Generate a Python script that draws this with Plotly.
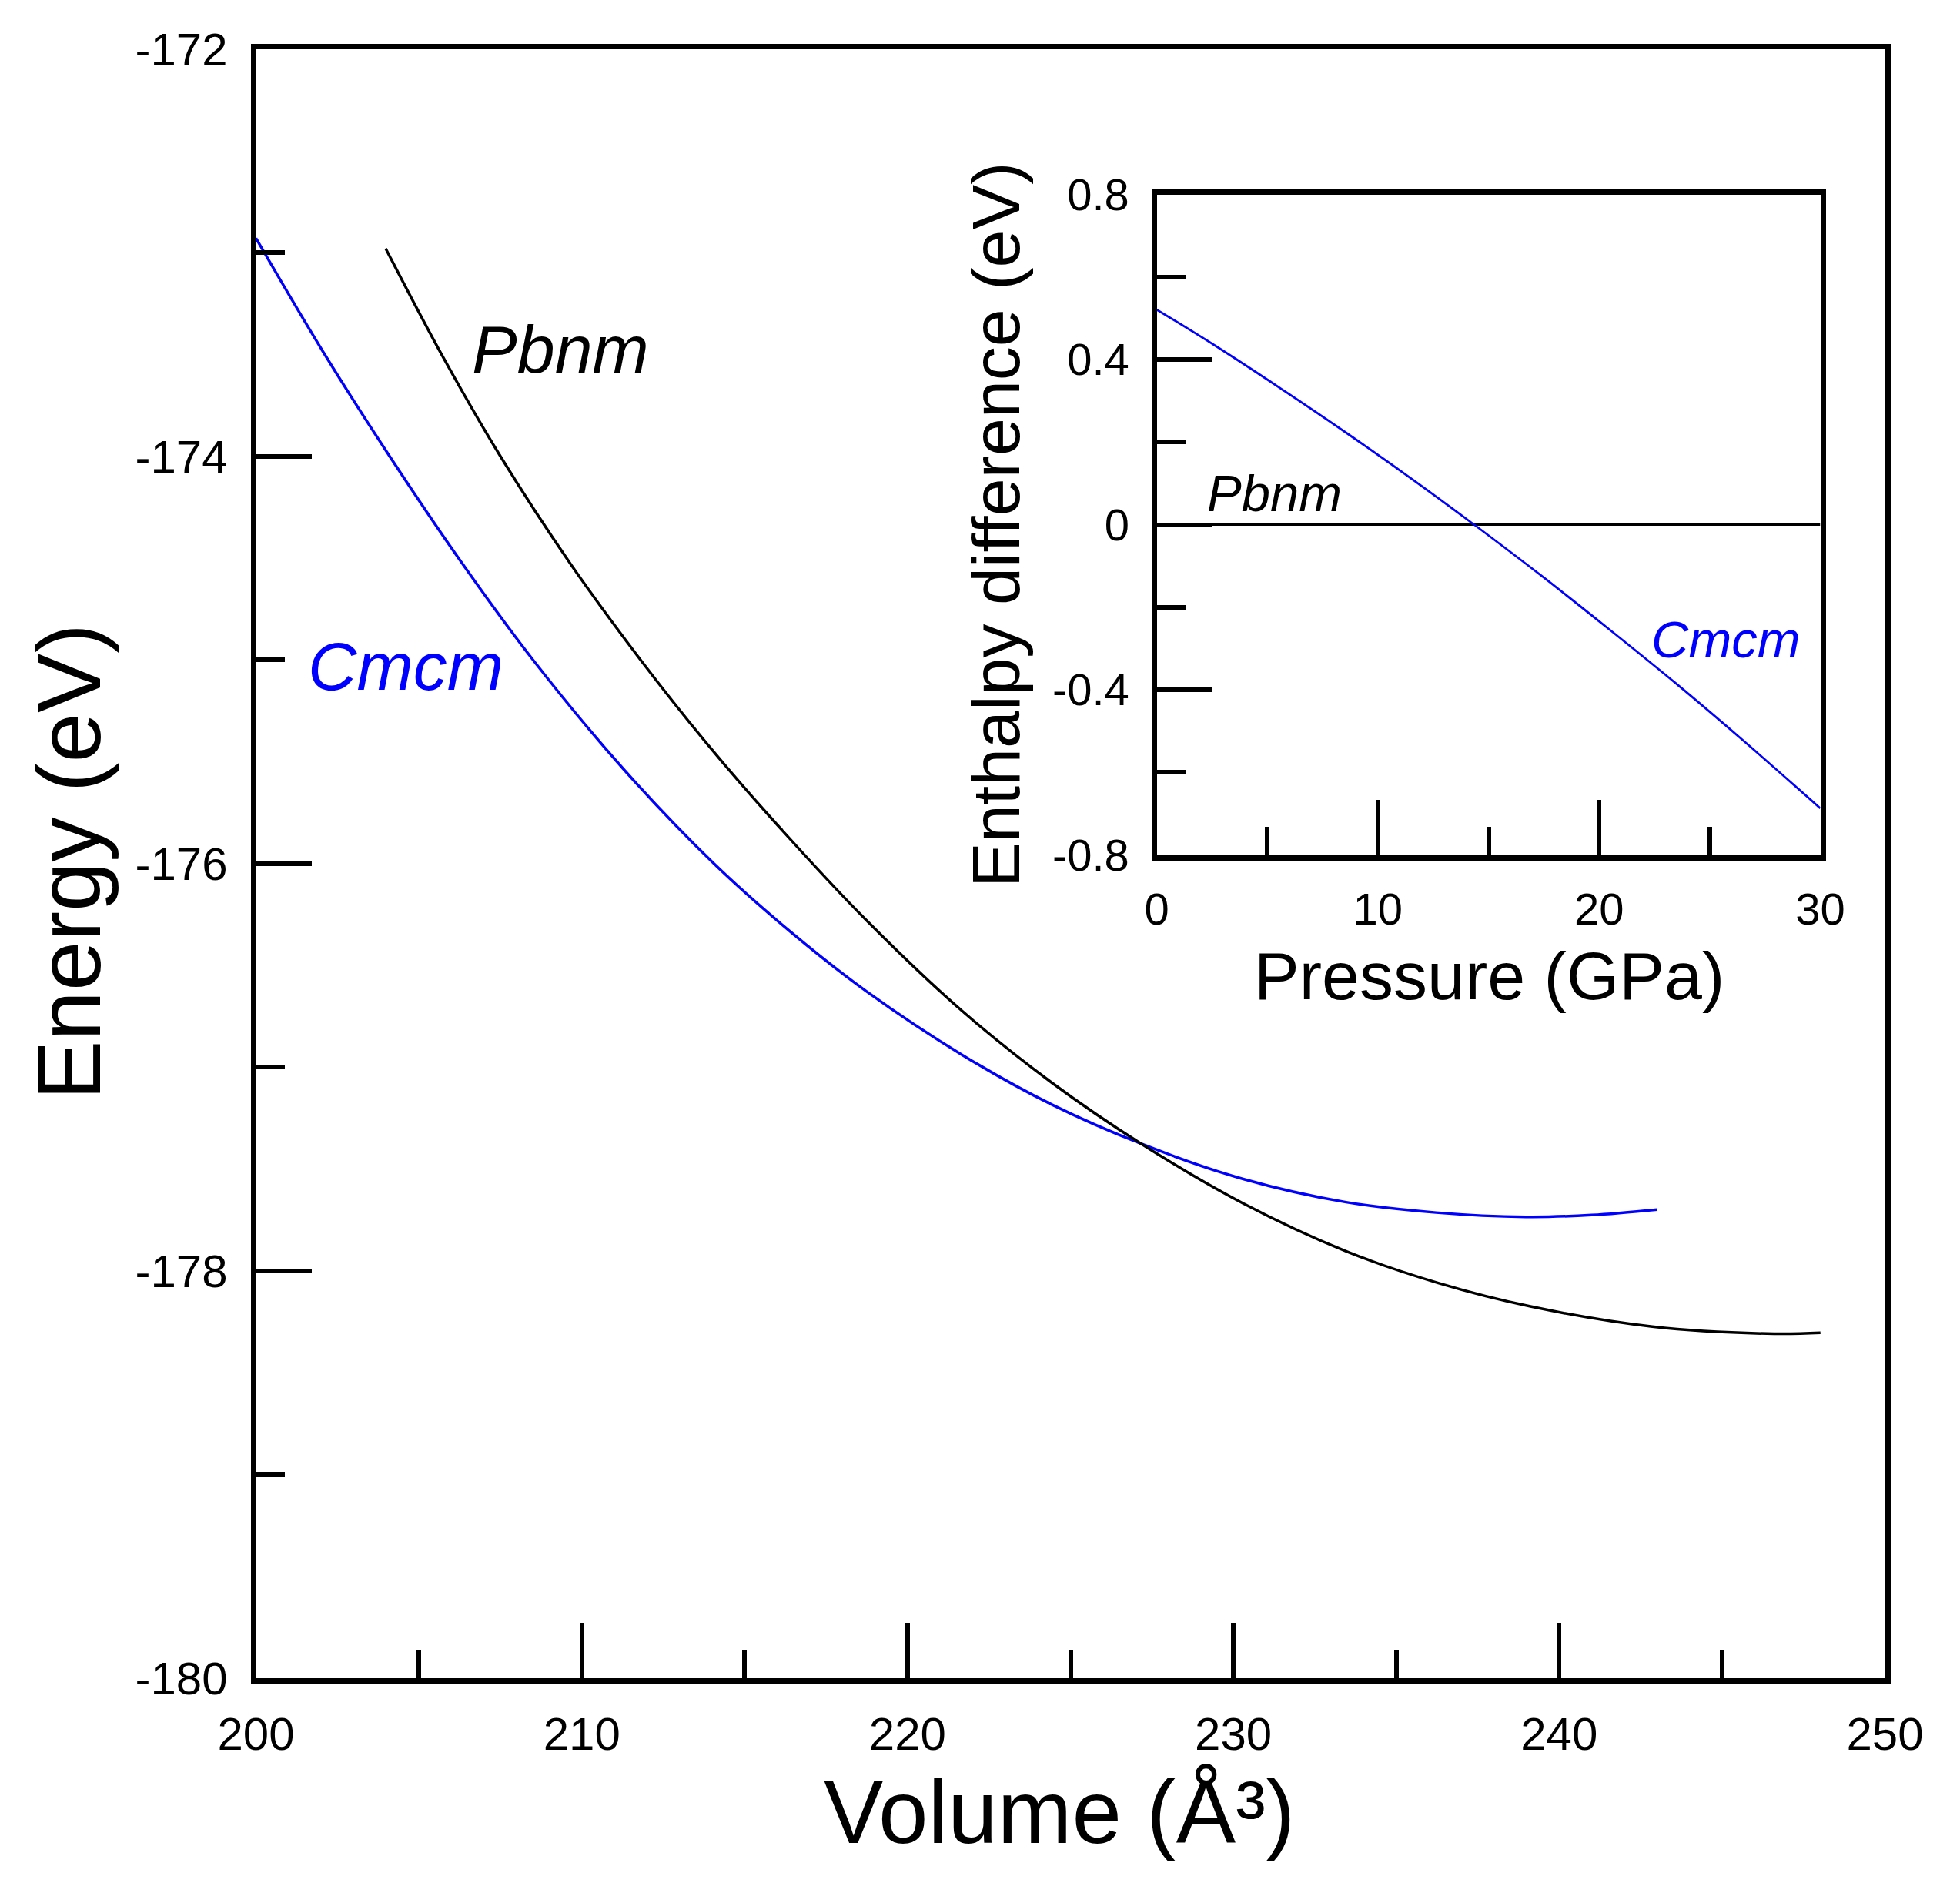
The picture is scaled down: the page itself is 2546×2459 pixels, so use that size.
import plotly.graph_objects as go

# main panel: energy vs volume
cmcm_vol = [200.0, 202.05, 204.1, 206.3, 208.5, 211.27, 214.05, 216.4, 218.75, 221.69,
            224.43, 227.17, 230.3, 233.46, 236.22, 238.98, 241.0, 243.01]
cmcm_energy = [-172.93, -173.485, -174.0, -174.52, -175.0, -175.535, -176.0, -176.335, -176.63, -176.942,
               -177.185, -177.377, -177.55, -177.664, -177.715, -177.736, -177.727, -177.70]

pbnm_vol = [203.98, 205.74, 207.5, 209.65, 211.8, 213.8, 215.8, 218.745, 221.69, 224.43,
            227.17, 230.315, 233.46, 236.29, 239.12, 242.86, 246.6, 248.02]
pbnm_energy = [-172.98, -173.513, -174.0, -174.528, -175.0, -175.404, -175.775, -176.281, -176.727, -177.0775,
               -177.377, -177.671, -177.905, -178.061, -178.176, -178.275, -178.31, -178.305]

# inset: enthalpy difference vs pressure
inset_p = [0, 2.66, 5.63, 8.61, 11.58, 14.35, 17.52, 20.49, 23.46, 26.43, 30.0]
inset_cmcm = [0.521, 0.433, 0.329, 0.221, 0.109, 0.0, -0.129, -0.255, -0.384, -0.519, -0.687]
inset_pbnm_p = [0, 30]
inset_pbnm = [0, 0]

vol_ticks = [200, 210, 220, 230, 240, 250]
energy_ticks = [-180, -178, -176, -174, -172]
p_ticks = [0, 10, 20, 30]
dh_ticks = [-0.8, -0.4, 0, 0.4, 0.8]
dh_labels = ["-0.8", "-0.4", "0", "0.4", "0.8"]

W, H = 2546, 2459
OFF = 8  # page body margin
LW = 7
FONT = "Liberation Sans, Arial, sans-serif"
BLUE = "#0000ff"


def px_x(v):
    return (v - OFF) / W


def px_y(v):
    return 1 - (v - OFF) / H


fig = go.Figure()
fig.add_trace(go.Scatter(x=cmcm_vol, y=cmcm_energy, mode="lines", line=dict(color=BLUE, width=3.5, shape="spline"),
                         xaxis="x", yaxis="y"))
fig.add_trace(go.Scatter(x=pbnm_vol, y=pbnm_energy, mode="lines", line=dict(color="black", width=3.5, shape="spline"),
                         xaxis="x", yaxis="y"))
fig.add_trace(go.Scatter(x=inset_pbnm_p, y=inset_pbnm, mode="lines", line=dict(color="black", width=2.8),
                         xaxis="x2", yaxis="y2"))
fig.add_trace(go.Scatter(x=inset_p, y=inset_cmcm, mode="lines", line=dict(color=BLUE, width=2.8, shape="spline"),
                         xaxis="x2", yaxis="y2"))

axis_common = dict(showline=True, linecolor="black", linewidth=LW, mirror=True, showgrid=False, zeroline=False,
                   ticks="inside", tickcolor="black", tickwidth=6, automargin=False)
h = LW / 2

fig.update_layout(
    width=W, height=H,
    margin=dict(l=0, r=0, t=0, b=0),
    paper_bgcolor="white", plot_bgcolor="white",
    showlegend=False,
    font=dict(family=FONT, color="black"),
    xaxis=dict(axis_common, domain=[px_x(329 + h), px_x(2452 - h)], range=[200, 250], anchor="y",
               tickvals=vol_ticks, ticklen=72, tickfont=dict(size=60), ticklabelstandoff=14,
               minor=dict(ticks="inside", ticklen=37, tickwidth=6, tickcolor="black", dtick=5, tick0=200,
                          showgrid=False)),
    yaxis=dict(axis_common, domain=[px_y(2183 - h), px_y(60 + h)], range=[-180, -172], anchor="x",
               tickvals=energy_ticks, ticktext=[str(t) for t in energy_ticks], ticklen=72,
               tickfont=dict(size=60), ticklabelstandoff=18,
               minor=dict(ticks="inside", ticklen=37, tickwidth=6, tickcolor="black", dtick=1, tick0=-180,
                          showgrid=False)),
    xaxis2=dict(axis_common, domain=[px_x(1499 + h), px_x(2368 - h)], range=[0, 30], anchor="y2",
                tickvals=p_ticks, ticklen=72, tickfont=dict(size=58), ticklabelstandoff=14,
                minor=dict(ticks="inside", ticklen=37, tickwidth=6, tickcolor="black", dtick=5, tick0=0,
                           showgrid=False)),
    yaxis2=dict(axis_common, domain=[px_y(1114 - h), px_y(249 + h)], range=[-0.8, 0.8], anchor="x2",
                tickvals=dh_ticks, ticktext=dh_labels, ticklen=72, tickfont=dict(size=58), ticklabelstandoff=17,
                minor=dict(ticks="inside", ticklen=37, tickwidth=6, tickcolor="black", dtick=0.2, tick0=-0.8,
                           showgrid=False)),
)

annotations = [
    # axis titles
    dict(text="Energy (eV)", x=px_x(90), y=px_y(1120), textangle=-90, font=dict(size=116)),
    dict(text="Volume (Å³)", x=px_x(1376), y=px_y(2354), font=dict(size=116)),
    dict(text="Enthalpy difference (eV)", x=px_x(1294), y=px_y(682), textangle=-90, font=dict(size=88)),
    dict(text="Pressure (GPa)", x=px_x(1934), y=px_y(1267), font=dict(size=88)),
    # curve labels
    dict(text="<i>Pbnm</i>", x=px_x(728), y=px_y(453), font=dict(size=88)),
    dict(text="<i>Cmcm</i>", x=px_x(527), y=px_y(865), font=dict(size=88, color=BLUE)),
    dict(text="<i>Pbnm</i>", x=px_x(1655), y=px_y(641), font=dict(size=67)),
    dict(text="<i>Cmcm</i>", x=px_x(2242), y=px_y(831), font=dict(size=67, color=BLUE)),
]
for a in annotations:
    fig.add_annotation(xref="paper", yref="paper", showarrow=False, xanchor="center", yanchor="middle", **a)

fig.write_html("out.html")
